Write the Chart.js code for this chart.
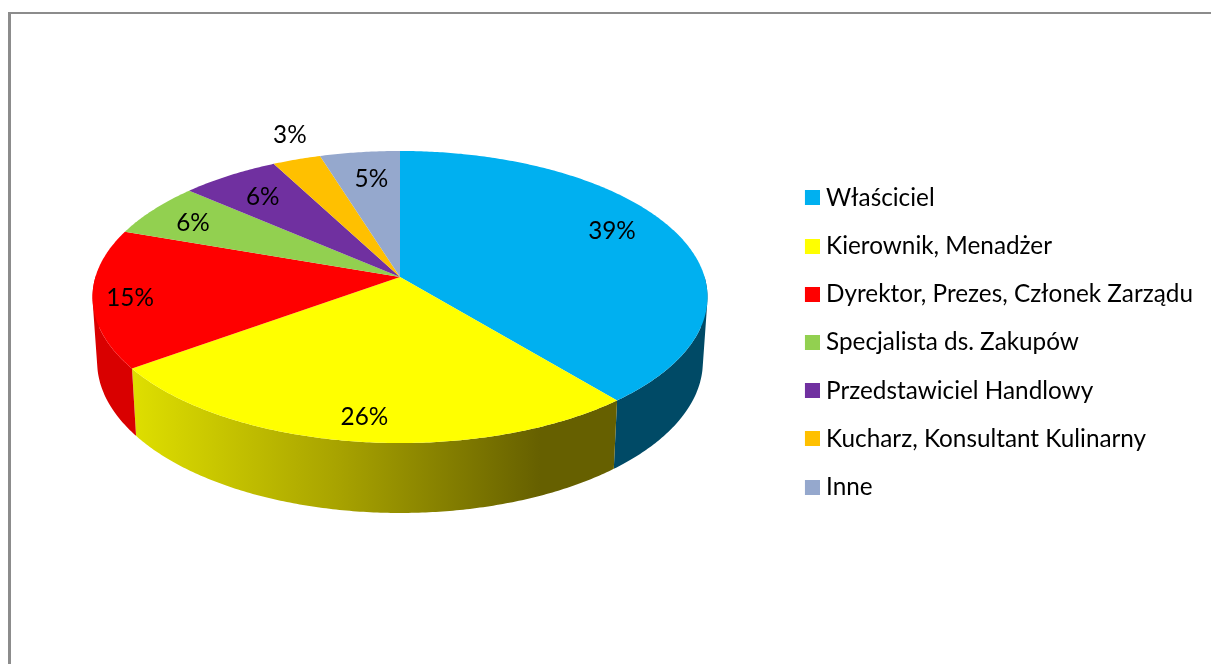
<!DOCTYPE html>
<html>
<head>
<meta charset="utf-8">
<script src="https://cdn.jsdelivr.net/npm/chart.js@4"></script>
<style>
  html, body { margin: 0; background: #fff; overflow: hidden; }
  #ramka { position: absolute; left: 8px; top: 12px; width: 1300px; height: 800px;
           border-left: 3px solid #8c8c8c; border-top: 2px solid #8c8c8c; }
  #wykres { position: absolute; left: 0; top: 0; }
</style>
</head>
<body>
<div id="ramka"></div>
<canvas id="wykres" width="1211" height="664"></canvas>
<script>
// DANE
const kategorie = ['Właściciel', 'Kierownik, Menadżer', 'Dyrektor, Prezes, Członek Zarządu',
  'Specjalista ds. Zakupów', 'Przedstawiciel Handlowy', 'Kucharz, Konsultant Kulinarny', 'Inne'];
const wartosci = [39, 26, 15.35, 6.05, 5.9, 2.9, 4.8];
const kolory = ['#00B0F0', '#FFFF00', '#FF0000', '#92D050', '#7030A0', '#FFC000', '#95A8CD'];
const koloryBoku = ['#004A66', '#FFFF00', '#D90000', '#5F8A34', '#4A2069', '#A87F00', '#627692'];

// PERSPEKTYWA (wzgledem srodka kola z Chart.js)
const czcionka = 'Lato, sans-serif';
const k = -0.137;
const gora = { a: 304.6, b: 143.3, y: -65.5 };
const dol = { a: 300, b: 148.4, y: -1.5 };
// promien i przesuniecie etykiet
const etykietyR = [0.766, 0.868, 0.88, 0.818, 0.763, 1.22, 0.763];
const etykietyDx = [0, 2, 0, -3, -4, 13, 3];
const etykietyDy = [-10, 0, 2, 2, -1, -2, 0];

function rzut(arc, kat, r, p) {
  const u = Math.cos(kat) * r;
  const v = Math.sin(kat) * r;
  const w = 1 + k * v;
  return [arc.x + p.a * u / w, arc.y + p.y + p.b * v / w];
}

function obrys(ctx, arc, od, doKat, r, p) {
  const kroki = Math.max(2, Math.ceil(Math.abs(doKat - od) / 0.01));
  for (let i = 0; i <= kroki; i++) {
    const pt = rzut(arc, od + (doKat - od) * i / kroki, r, p);
    ctx.lineTo(pt[0], pt[1]);
  }
}

function pole(q) {
  let s = 0;
  q.forEach((p, i) => {
    const n = q[(i + 1) % q.length];
    s += p[0] * n[1] - n[0] * p[1];
  });
  return s;
}

// bok: czworokaty w jednej sciezce, wszystkie w tym samym kierunku (bez szwow i bez znoszenia sie)
function bok(ctx, arc) {
  const kroki = Math.max(2, Math.ceil((arc.endAngle - arc.startAngle) / 0.01));
  ctx.beginPath();
  for (let i = 0; i < kroki; i++) {
    const a = arc.startAngle + (arc.endAngle - arc.startAngle) * i / kroki;
    const b = arc.startAngle + (arc.endAngle - arc.startAngle) * (i + 1) / kroki;
    if (Math.sin(a) < 0 && Math.sin(b) < 0) continue; // tyl schowany pod wierzchem
    const q = [rzut(arc, a, 1, gora), rzut(arc, b, 1, gora), rzut(arc, b, 1, dol), rzut(arc, a, 1, dol)];
    if (pole(q) < 0) q.reverse();
    ctx.moveTo(q[0][0], q[0][1]);
    ctx.lineTo(q[1][0], q[1][1]);
    ctx.lineTo(q[2][0], q[2][1]);
    ctx.lineTo(q[3][0], q[3][1]);
    ctx.closePath();
  }
}

const pie3d = {
  id: 'pie3d',
  beforeDatasetsDraw(chart) {
    const ctx = chart.ctx;
    const luki = chart.getDatasetMeta(0).data;

    // boki
    luki.forEach((arc, i) => {
      let fill = koloryBoku[i];
      if (i === 1) {
        const g = ctx.createLinearGradient(135, 0, 540, 0);
        g.addColorStop(0, '#DEDE00');
        g.addColorStop(0.5, '#A8A300');
        g.addColorStop(1, '#666000');
        fill = g;
      }
      bok(ctx, arc);
      ctx.fillStyle = fill;
      ctx.fill();
    });

    // wierzch
    luki.forEach((arc, i) => {
      const c = rzut(arc, 0, 0, gora);
      ctx.beginPath();
      ctx.moveTo(c[0], c[1]);
      obrys(ctx, arc, arc.startAngle, arc.endAngle, 1, gora);
      ctx.closePath();
      ctx.fillStyle = kolory[i];
      ctx.fill();
    });

    // etykiety
    ctx.fillStyle = '#000';
    ctx.font = '24.3px ' + czcionka;
    ctx.textAlign = 'center';
    ctx.textBaseline = 'middle';
    luki.forEach((arc, i) => {
      const pt = rzut(arc, (arc.startAngle + arc.endAngle) / 2, etykietyR[i], gora);
      ctx.fillText(Math.round(wartosci[i]) + '%', pt[0] + etykietyDx[i], pt[1] + etykietyDy[i]);
    });
    return false;
  }
};

// kwadrat legendy jako canvas: wezszy box daje mniejszy odstep do tekstu
function kwadrat(kolor) {
  const c = document.createElement('canvas');
  c.width = 21;
  c.height = 15;
  const g = c.getContext('2d');
  g.fillStyle = kolor;
  g.fillRect(6, 0, 15, 15);
  return c;
}

new Chart(document.getElementById('wykres'), {
  type: 'pie',
  data: {
    labels: kategorie,
    datasets: [{ data: wartosci, backgroundColor: kolory, borderWidth: 0 }]
  },
  options: {
    responsive: false,
    animation: false,
    layout: { padding: { left: 19, right: 8, top: 21, bottom: 0 } },
    plugins: {
      tooltip: { enabled: false },
      legend: {
        position: 'right',
        labels: {
          color: '#000',
          font: { family: czcionka, size: 24.3 },
          padding: 23.9,
          usePointStyle: true,
          pointStyleWidth: 9,
          boxHeight: 15,
          generateLabels: () => kategorie.map((t, i) => ({
            text: t,
            fillStyle: kolory[i],
            strokeStyle: kolory[i],
            lineWidth: 0,
            pointStyle: kwadrat(kolory[i]),
            index: i
          }))
        }
      }
    }
  },
  plugins: [pie3d]
});
</script>
</body>
</html>
